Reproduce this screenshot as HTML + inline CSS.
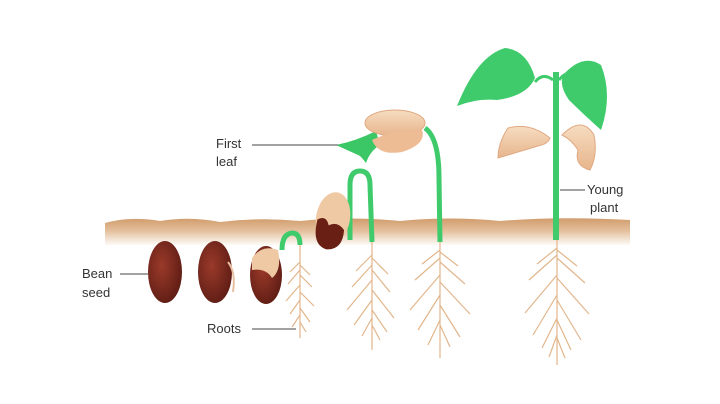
<!DOCTYPE html>
<html><head><style>body{margin:0;background:#fff}svg{display:block}text{font-family:"Liberation Sans",sans-serif;font-size:13px;fill:#333}</style></head>
<body><svg width="720" height="404" viewBox="0 0 720 404">
<defs>
<linearGradient id="soil" x1="0" y1="0" x2="0" y2="1"><stop offset="0" stop-color="#d09c6c"/><stop offset="0.45" stop-color="#e4bf9c"/><stop offset="1" stop-color="#fff"/></linearGradient>
<radialGradient id="bean" cx="0.4" cy="0.4" r="0.7"><stop offset="0" stop-color="#9a3a2a"/><stop offset="1" stop-color="#5a1a12"/></radialGradient>
<linearGradient id="cot" x1="0" y1="0" x2="0" y2="1"><stop offset="0" stop-color="#f6dcc0"/><stop offset="1" stop-color="#e7b58c"/></linearGradient>
</defs>
<path d="M105 223 Q130 216 160 221 Q190 216 220 222 Q260 217 300 221 Q350 216 400 221 Q450 216 500 221 Q560 216 630 220 L630 246 L105 246 Z" fill="url(#soil)"/>
<g stroke="#e2b68c" stroke-width="1.2" fill="none">
<path d="M300 245 L300 338 M300 262 l-10 10 M300 270 l-12 14 M300 285 l-14 16 M300 300 l-10 14 M300 315 l-8 12 M300 265 l10 10 M300 275 l12 12 M300 292 l14 14 M300 308 l10 14 M300 322 l6 10"/>
<path d="M372 240 L372 350 M372 255 l-16 16 M372 265 l-20 22 M372 280 l-25 30 M372 300 l-18 25 M372 318 l-10 18 M372 258 l16 16 M372 270 l18 22 M372 290 l22 28 M372 310 l15 22 M372 325 l8 15"/>
<path d="M440 240 L440 358 M440 250 l-18 14 M440 258 l-25 22 M440 275 l-30 35 M440 295 l-22 35 M440 320 l-12 25 M440 252 l18 14 M440 262 l25 22 M440 282 l30 32 M440 305 l20 32 M440 325 l10 22"/>
<path d="M557 240 L557 365 M557 248 l-20 16 M557 255 l-28 25 M557 275 l-32 38 M557 295 l-24 40 M557 318 l-15 30 M557 250 l20 16 M557 258 l28 25 M557 278 l32 36 M557 300 l24 40 M557 320 l14 30 M557 335 l-8 22 M557 338 l8 20"/>
</g>
<ellipse cx="165" cy="272" rx="17" ry="31" fill="url(#bean)"/>
<ellipse cx="215" cy="272" rx="17" ry="31" fill="url(#bean)"/>
<path d="M228 262 q8 10 5 30" stroke="#e6c0a0" stroke-width="2" fill="none"/>
<ellipse cx="266" cy="275" rx="16" ry="29" fill="url(#bean)"/>
<path d="M252 258 q10 -14 26 -8 q4 20 -6 28 q-6 -10 -20 -8z" fill="#efc9a3"/>
<path d="M282 250 q0 -16 10 -17 q8 0 8 12" stroke="#3fcb6c" stroke-width="5" fill="none"/>
<path d="M350 240 L350 185 q0 -14 10 -14 q10 0 10 14 L372 242" stroke="#3fcb6c" stroke-width="5" fill="none"/>
<g transform="rotate(10 333 218)"><ellipse cx="333" cy="218" rx="17" ry="26" fill="#efc9a3"/><path d="M318 222 q8 -6 12 4 q8 -6 16 2 q2 20 -14 22 q-16 -2 -14 -28z" fill="#6a1f15"/></g>
<path d="M425 128 q14 10 14 50 L440 242" stroke="#3fcb6c" stroke-width="5" fill="none"/>
<path d="M336 145 q20 -4 40 -14 l4 14 q-10 6 -14 18 q-6 -8 -8 -8z" fill="#3bc766"/>
<ellipse cx="395" cy="123" rx="30" ry="13" fill="url(#cot)" stroke="#e0a880" stroke-width="1"/>
<path d="M372 140 q20 -10 50 -10 q5 14 -20 22 q-24 4 -30 -12z" fill="#eebc94"/>
<path d="M556 240 L556 72" stroke="#3fcb6c" stroke-width="6" fill="none"/>
<path d="M553 80 q-10 -8 -18 2 M559 80 q8 -10 12 -4" stroke="#3fcb6c" stroke-width="3" fill="none"/>
<path d="M535 78 q-8 -28 -30 -30 q-28 8 -48 58 q20 -8 40 -6 q30 -4 38 -22z" fill="#3fcb6c"/>
<path d="M563 75 q20 -22 38 -10 q12 30 0 65 q-20 -18 -32 -30 q-10 -14 -6 -25z" fill="#3fcb6c"/>
<path d="M550 138 q-20 -16 -42 -10 q-10 15 -10 30 q20 -6 40 -12 q10 -2 12 -8z" fill="url(#cot)" stroke="#e0a880"/>
<path d="M562 135 q20 -20 32 0 q4 20 -4 35 q-16 -4 -12 -20 q-6 -10 -16 -15z" fill="url(#cot)" stroke="#e0a880"/>
<g stroke="#444" stroke-width="1"><line x1="252" y1="145" x2="338" y2="145"/><line x1="560" y1="190" x2="585" y2="190"/><line x1="120" y1="274" x2="148" y2="274"/><line x1="252" y1="329" x2="296" y2="329"/></g>
<text x="216" y="148">First</text><text x="216" y="166">leaf</text>
<text x="587" y="194">Young</text><text x="590" y="212">plant</text>
<text x="82" y="278">Bean</text><text x="82" y="297">seed</text>
<text x="207" y="333">Roots</text>
</svg></body></html>
